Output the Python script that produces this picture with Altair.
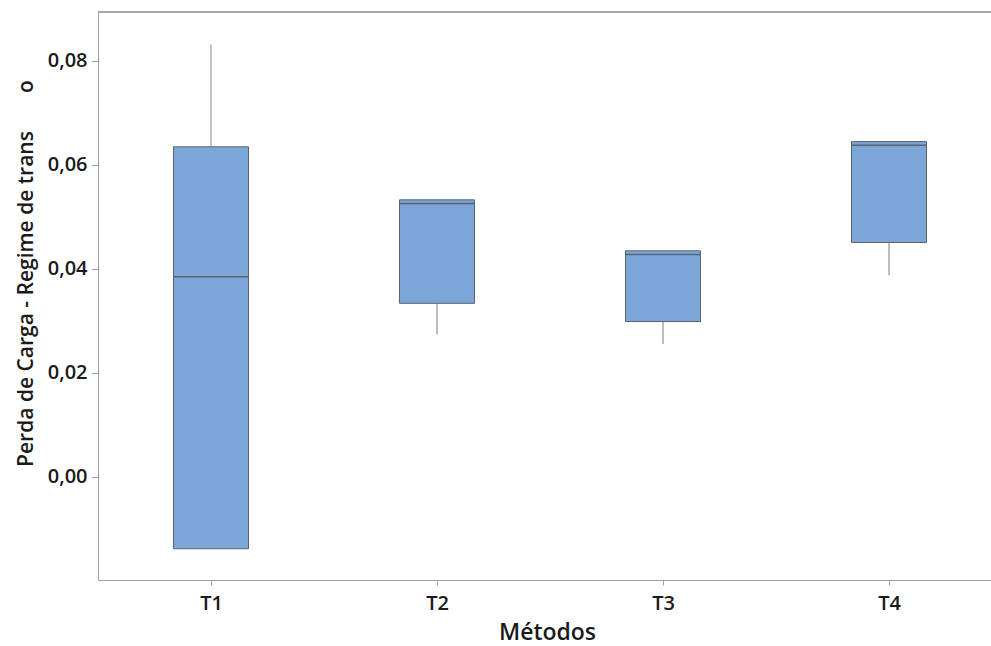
import altair as alt
import pandas as pd

# ---- data ----
methods = ["T1", "T2", "T3", "T4"]
mins    = [-0.0138, 0.0274, 0.0256, 0.0388]
q1s     = [-0.0138, 0.0334, 0.0299, 0.0451]
medians = [0.0385, 0.0526, 0.0428, 0.0638]
q3s     = [0.0635, 0.0533, 0.0435, 0.0645]
maxs    = [0.0832, 0.0533, 0.0435, 0.0645]
y_ticks = [0.00, 0.02, 0.04, 0.06, 0.08]

df = pd.DataFrame({
    "method": methods,
    "idx": list(range(1, len(methods) + 1)),
    "lo": mins, "q1": q1s, "med": medians, "q3": q3s, "hi": maxs,
})

W, H = 893, 568
FONT = "Open Sans"
TXT = "#1a1a1a"
AX = "#a0a0a0"
HALF = 0.166

label_js = "[" + ",".join("'%s'" % m for m in methods) + "][datum.value - 1]"

xscale = alt.Scale(domain=[0.5, 0.5 + W / 226.0], nice=False, zero=False)
yscale = alt.Scale(domain=[-0.019808, 0.089423], nice=False, zero=False)

xaxis = alt.Axis(values=list(range(1, len(methods) + 1)), labelExpr=label_js,
                 title="Métodos", grid=False, domainColor=AX, tickColor=AX,
                 tickSize=5, labelPadding=8, labelFont=FONT, labelFontSize=20,
                 labelFontWeight=600, labelColor=TXT, titleFont=FONT,
                 titleFontSize=23, titleFontWeight=600, titleColor=TXT,
                 titleX=449, titleY=59, titleBaseline="alphabetic")
yaxis = alt.Axis(values=y_ticks,
                 labelExpr="replace(format(datum.value, '.2f'), '.', ',')",
                 title="Perda de Carga - Regime de trans" + "\u00a0" * 7 + "o",
                 grid=False, domainColor=AX, tickColor=AX, tickSize=7,
                 labelPadding=4, labelFont=FONT, labelFontSize=20,
                 labelFontWeight=600, labelColor=TXT, titleFont=FONT,
                 titleFontSize=21, titleFontWeight=600, titleColor=TXT,
                 titleX=-62, titleY=261)

base = alt.Chart(df).transform_calculate(
    x0="datum.idx - %f" % HALF, x1="datum.idx + %f" % HALF
)

whisk_low = base.mark_rule(color="#7a7a7a", strokeWidth=1).encode(
    x=alt.X("idx:Q", scale=xscale, axis=xaxis),
    y=alt.Y("lo:Q", scale=yscale, axis=yaxis),
    y2="q1:Q",
)
whisk_high = base.mark_rule(color="#8c8c8c", strokeWidth=1).encode(
    x=alt.X("idx:Q", scale=xscale),
    y=alt.Y("q3:Q", scale=yscale),
    y2="hi:Q",
)
boxes = base.mark_rect(fill="#7ca6d8", stroke="#5a6170", strokeWidth=1).encode(
    x=alt.X("x0:Q", scale=xscale),
    x2="x1:Q",
    y=alt.Y("q1:Q", scale=yscale),
    y2="q3:Q",
)
med = base.mark_rule(color="#5a6170", strokeWidth=1.5).encode(
    x=alt.X("x0:Q", scale=xscale),
    x2="x1:Q",
    y=alt.Y("med:Q", scale=yscale),
)
top_border = alt.Chart(df).mark_rule(color=AX, strokeWidth=1).encode(
    x=alt.value(0), x2=alt.value(W), y=alt.value(0)
)

chart = alt.layer(whisk_low, whisk_high, boxes, med, top_border).properties(
    width=W, height=H,
    autosize=alt.AutoSizeParams(type="none"),
    padding={"left": 98, "top": 12, "right": 0, "bottom": 66},
    background="white",
).configure_view(stroke=None)

chart.save("out.html", embed_options={"renderer": "svg", "actions": False})
